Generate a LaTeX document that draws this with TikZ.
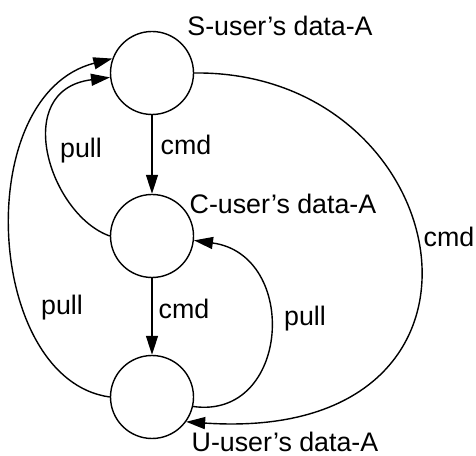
\documentclass[tikz,border=0pt]{standalone}
\usepackage{fontspec}
\setmainfont{Liberation Sans}
\usetikzlibrary{arrows.meta}
\tikzset{
	state/.style={draw, circle, minimum size=41.5pt, inner sep=0pt, line width=0.7pt},
	flow/.style={line width=0.7pt, -{Triangle[length=9.5pt,width=6pt]}},
	lbl/.style={font=\fontsize{13.4pt}{15pt}\selectfont, inner sep=0pt}
}

\begin{document}
\begin{tikzpicture}[x=0.5pt, y=0.5pt]
	\useasboundingbox (0,0) rectangle (476,455);
	\node[state] (S) at (152,382) {};
	\node[state] (C) at (152,219) {};
	\node[state] (U) at (152,58) {};
	
	\node[lbl] (Sname) at (280,429) {S-user's data-A};
	\node[lbl] (Cname) at (283,251) {C-user's data-A};
	\node[lbl] (Uname) at (285,13) {U-user's data-A};
	
	\draw[flow] (S.south) -- (C.north);
	\draw[flow] (C.south) -- (U.north);
	\draw[flow] (C.180) .. controls (50,240) and (10,365) .. (S.186);
	\draw[flow] (U.180) .. controls (-15,75) and (-30,360) .. (S.160);
	\draw[flow] (U.-13) .. controls (290,35) and (300,200) .. (C.-6);
	\draw[flow] (S.0) .. controls (460,385) and (530,10) .. (U.-36);
	
	% edge labels
	\node[lbl] (cmdSC) at (186,310) {cmd};
	\node[lbl] (cmdCU) at (184,146) {cmd};
	\node[lbl] (pullCS) at (81,304) {pull};
	\node[lbl] (pullUS) at (62,147) {pull};
	\node[lbl] (pullUC) at (305,136) {pull};
	\node[lbl] (cmdSU) at (449,218) {cmd};
%	\draw (0,0) rectangle (476,455);
\end{tikzpicture}
\end{document}
